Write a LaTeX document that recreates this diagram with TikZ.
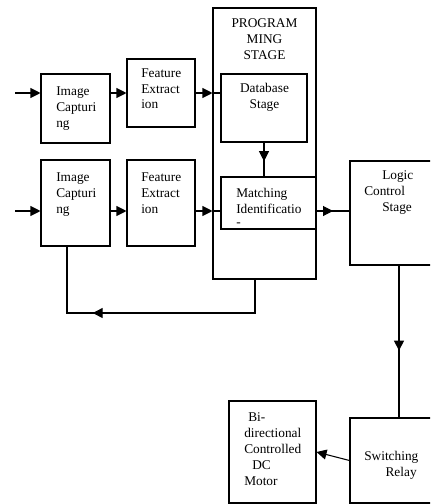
\documentclass[tikz,border=0pt]{standalone}
\usepackage{fontspec}
\setmainfont{Liberation Serif}
\usetikzlibrary{positioning,arrows.meta,calc,decorations.markings}

\tikzset{
  box/.style={draw, line width=.8pt, inner sep=0pt},
  txt/.style={font=\fontsize{10pt}{12pt}\selectfont, align=left, inner sep=0pt, anchor=north west},
  wire/.style={line width=.8pt},
  arr/.style={wire, -{Triangle[length=7.5pt, width=7.5pt]}},
  midarr/.style={wire, postaction={decorate}, decoration={markings, mark=at position #1 with {\arrow{Triangle[length=7.5pt, width=7.5pt]}}}},
}

\begin{document}
\begin{tikzpicture}[x=.75pt, y=-.75pt]
      \clip (0,0) rectangle (430,504);
      % boxes
      \node[box, minimum width=51.75pt, minimum height=51.75pt] (ic1) at (75.5,108.5) {};
      \node[box, minimum width=51pt, minimum height=51pt] (fe1) at (161,93) {};
      \node[box, minimum width=51.75pt, minimum height=64.5pt] (ic2) at (75.5,203) {};
      \node[box, minimum width=51pt, minimum height=64.5pt] (fe2) at (161,203) {};
      \node[box, minimum width=77.25pt, minimum height=203.25pt] (prog) at (264.5,143.5) {};
      \node[box, minimum width=64.5pt, minimum height=51pt] (db) at (264,108) {};
      \node[box, minimum width=71.25pt, minimum height=39pt] (match) at (268.5,203) {};
      \node[box, minimum width=73.5pt, minimum height=78pt] (logic) at (399,213) {};
      \node[box, minimum width=73.5pt, minimum height=63.75pt] (relay) at (399,460.5) {};
      \node[box, minimum width=65.25pt, minimum height=76.5pt] (motor) at (272.5,452) {};
      % texts
      \node[txt] (ic1t) at (56,86) {Image\\Capturi\\ng};
      \node[txt] (fe1t) at (141,68) {Feature\\Extract\\ion};
      \node[txt] (ic2t) at (56,172) {Image\\Capturi\\ng};
      \node[txt] (fe2t) at (141,172) {Feature\\Extract\\ion};
      \node[txt, align=center, anchor=north] (progt) at (264.5,18) {PROGRAM\\MING\\STAGE};
      \node[txt, align=center, anchor=north] (dbt) at (264.5,83) {Database\\Stage};
      \node[txt] (matcht) at (236,188) {Matching\\Identificatio\\[-2pt]-};
      \node[txt] (logict) at (364,170) {\hspace*{13.5pt}Logic\\Control\\\hspace*{13.5pt}Stage};
      \node[txt] (relayt) at (364,451) {Switching\\\hspace*{16pt}Relay};
      \node[txt] (motort) at (244,412) {\hspace*{3pt}Bi-\\directional\\Controlled\\\hspace*{6pt}DC\\Motor};
      % connectors
      \coordinate (in1) at (15,93);
      \coordinate (in2) at (15,211);
      \coordinate (fb) at (255,313);
      \coordinate (fb2) at (67,313);
      \draw[arr] (in1) -- (in1 -| ic1.west);
      \draw[arr] (in1 -| ic1.east) -- (in1 -| fe1.west);
      \draw[arr] (in1 -| fe1.east) -- (in1 -| prog.west);
      \draw[wire] (in1 -| prog.west) -- (in1 -| db.west);
      \draw[arr] (in2) -- (in2 -| ic2.west);
      \draw[arr] (in2 -| ic2.east) -- (in2 -| fe2.west);
      \draw[arr] (in2 -| fe2.east) -- (in2 -| prog.west);
      \draw[wire] (in2 -| prog.west) -- (in2 -| match.west);
      \draw[midarr=.55] (db.south) -- (db.south |- match.north);
      \draw[midarr=.5] (in2 -| match.east) -- (in2 -| logic.west);
      \draw[midarr=.56] (logic.south) -- (relay.north);
      \draw[arr] (relay.west) -- (motor.east);
      \draw[midarr=.68] (prog.south -| fb) -- (fb) -- (fb2) -- (fb2 |- ic2.south);
\end{tikzpicture}
\end{document}
